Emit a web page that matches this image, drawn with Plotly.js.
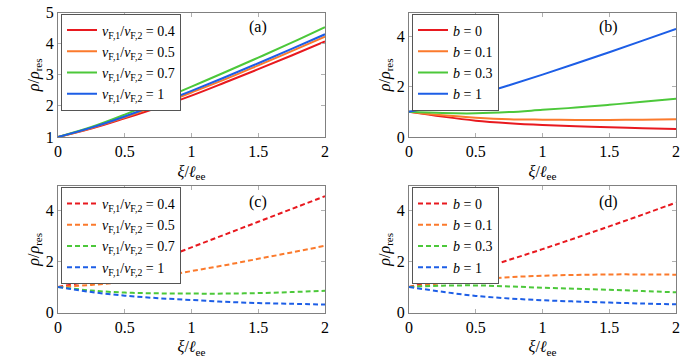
<!DOCTYPE html>
<html>
<head>
<meta charset="utf-8">
<script src="https://cdn.plot.ly/plotly-3.0.1.min.js"></script>
<style>
  body { margin: 0; background: #fff; }
  #myGraph { width: 700px; height: 360px; }
  #myGraph text { font-family: 'Liberation Serif', serif !important; }
</style>
</head>
<body>
<div id="myGraph"></div>
<script>
// x 軸 (xi / l_ee) 取樣點
const xi = [0, 0.25, 0.5, 0.75, 1, 1.25, 1.5, 1.75, 2];

// legend 文字
const ratioLabels = ['0.4', '0.5', '0.7', '1'];
const bLabels = ['0', '0.1', '0.3', '1'];

// (a) 實線, vF1/vF2
const a04 = [1, 1.27, 1.60, 1.95, 2.33, 2.75, 3.18, 3.62, 4.07];
const a05 = [1, 1.29, 1.63, 2.02, 2.43, 2.85, 3.30, 3.76, 4.22];
const a07 = [1, 1.32, 1.72, 2.16, 2.62, 3.08, 3.55, 4.03, 4.53];
const a10 = [1, 1.30, 1.66, 2.06, 2.48, 2.92, 3.37, 3.83, 4.30];

// (b) 實線, b
const b0 = [1, 0.81, 0.65, 0.55, 0.48, 0.43, 0.39, 0.35, 0.32];
const b01 = [1, 0.86, 0.77, 0.71, 0.69, 0.68, 0.68, 0.69, 0.71];
const b03 = [1, 0.95, 0.94, 0.99, 1.08, 1.17, 1.28, 1.40, 1.52];
const b1 = [1, 1.30, 1.66, 2.06, 2.48, 2.92, 3.37, 3.83, 4.30];

// (c) 虛線, vF1/vF2
const c04 = [1, 1.25, 1.60, 2.05, 2.55, 3.05, 3.55, 4.05, 4.55];
const c05 = [1, 1.08, 1.20, 1.38, 1.62, 1.85, 2.10, 2.35, 2.61];
const c07 = [1, 0.86, 0.78, 0.75, 0.74, 0.74, 0.76, 0.80, 0.85];
const c10 = [1, 0.80, 0.66, 0.56, 0.49, 0.42, 0.37, 0.34, 0.31];

// (d) 虛線, b
const d0 = [1, 1.30, 1.66, 2.06, 2.48, 2.92, 3.37, 3.83, 4.30];
const d01 = [1, 1.15, 1.29, 1.38, 1.44, 1.47, 1.49, 1.49, 1.48];
const d03 = [1, 1.05, 1.06, 1.02, 0.97, 0.93, 0.89, 0.84, 0.79];
const d1 = [1, 0.81, 0.65, 0.55, 0.48, 0.43, 0.39, 0.35, 0.32];

const colors = ['#e8191f', '#fb7a2c', '#4cc83a', '#1d5ee6'];
const fontName = 'Liberation Serif';

let myGraph = document.getElementById('myGraph');

function ratioName(v) {
    return '<i>v</i><sub>F,1</sub>/<i>v</i><sub>F,2</sub> = ' + v;
}
function bName(v) {
    return '<i>b</i> = ' + v;
}

// 建立一個 panel 的 4 條線
function panel(sets, labels, nameFn, dashed, n) {
    let out = [];
    for (let i = 0; i < sets.length; i++) {
        out.push({
            type: 'scatter',
            mode: 'lines',
            x: xi,
            y: sets[i],
            name: nameFn(labels[i]),
            xaxis: n === 1 ? 'x' : 'x' + n,
            yaxis: n === 1 ? 'y' : 'y' + n,
            legend: n === 1 ? 'legend' : 'legend' + n,
            line: {
                color: colors[i],
                width: 2,
                shape: 'spline',
                dash: dashed ? '5px,3px' : 'solid'
            }
        });
    }
    return out;
}

let data = [];
data = data.concat(panel([a04, a05, a07, a10], ratioLabels, ratioName, false, 1));
data = data.concat(panel([b0, b01, b03, b1], bLabels, bName, false, 2));
data = data.concat(panel([c04, c05, c07, c10], ratioLabels, ratioName, true, 3));
data = data.concat(panel([d0, d01, d03, d1], bLabels, bName, true, 4));

function xAxis(domain, anchor) {
    return {
        domain: domain,
        anchor: anchor,
        range: [0, 2],
        tickvals: [0, 0.5, 1, 1.5, 2],
        ticktext: ['0', '0.5', '1', '1.5', '2'],
        ticks: 'inside',
        ticklen: 4,
        tickcolor: '#b0b0b0',
        showline: true,
        mirror: 'allticks',
        linecolor: '#808080',
        linewidth: 1,
        showgrid: false,
        zeroline: false,
        tickfont: {family: fontName, size: 16},
        title: {text: '<i>ξ</i>/<i>ℓ</i><sub>ee</sub>', font: {family: fontName, size: 16}, standoff: 6}
    };
}

function yAxis(domain, anchor, range, dtick) {
    return {
        domain: domain,
        anchor: anchor,
        range: range,
        dtick: dtick,
        ticks: 'inside',
        ticklen: 4,
        tickcolor: '#b0b0b0',
        showline: true,
        mirror: 'allticks',
        linecolor: '#808080',
        linewidth: 1,
        showgrid: false,
        zeroline: false,
        tickfont: {family: fontName, size: 16},
        title: {text: '<i>ρ</i>/<i>ρ</i><sub>res</sub>', font: {family: fontName, size: 16}, standoff: 2}
    };
}

const xLeft = [58 / 700, 325 / 700];
const xRight = [409 / 700, 676 / 700];
const yTop = [1 - 137 / 360, 1 - 12.5 / 360];
const yBot = [1 - 312.5 / 360, 1 - 186 / 360];

function legendAt(x, y) {
    return {
        x: x, y: y,
        xref: 'paper', yref: 'paper',
        xanchor: 'left', yanchor: 'top',
        bgcolor: '#fff',
        bordercolor: '#555',
        borderwidth: 1,
        itemwidth: 30,
        tracegroupgap: 0,
        font: {family: fontName, size: 14}
    };
}

function tag(text, x, y) {
    return {
        text: text, x: x, y: y,
        xref: 'paper', yref: 'paper',
        xanchor: 'center', yanchor: 'middle',
        showarrow: false,
        font: {family: fontName, size: 16}
    };
}

let layout = {
    width: 700,
    height: 360,
    margin: {t: 0, r: 0, l: 0, b: 0},
    paper_bgcolor: '#fff',
    plot_bgcolor: '#fff',
    font: {family: fontName, size: 16, color: '#000'},
    showlegend: true,
    xaxis: xAxis(xLeft, 'y'),
    yaxis: yAxis(yTop, 'x', [1, 5], 1),
    xaxis2: xAxis(xRight, 'y2'),
    yaxis2: yAxis(yTop, 'x2', [0, 4.95], 2),
    xaxis3: xAxis(xLeft, 'y3'),
    yaxis3: yAxis(yBot, 'x3', [0, 4.95], 2),
    xaxis4: xAxis(xRight, 'y4'),
    yaxis4: yAxis(yBot, 'x4', [0, 4.95], 2),
    legend: legendAt(61 / 700, 1 - 13.5 / 360),
    legend2: legendAt(412 / 700, 1 - 13.5 / 360),
    legend3: legendAt(61 / 700, 1 - 187 / 360),
    legend4: legendAt(412 / 700, 1 - 187 / 360),
    annotations: [
        tag('(a)', 258 / 700, 1 - 27 / 360),
        tag('(b)', 608 / 700, 1 - 27 / 360),
        tag('(c)', 258 / 700, 1 - 202 / 360),
        tag('(d)', 608 / 700, 1 - 202 / 360)
    ]
};

Plotly.newPlot(myGraph, data, layout, {displayModeBar: false});
</script>
</body>
</html>
